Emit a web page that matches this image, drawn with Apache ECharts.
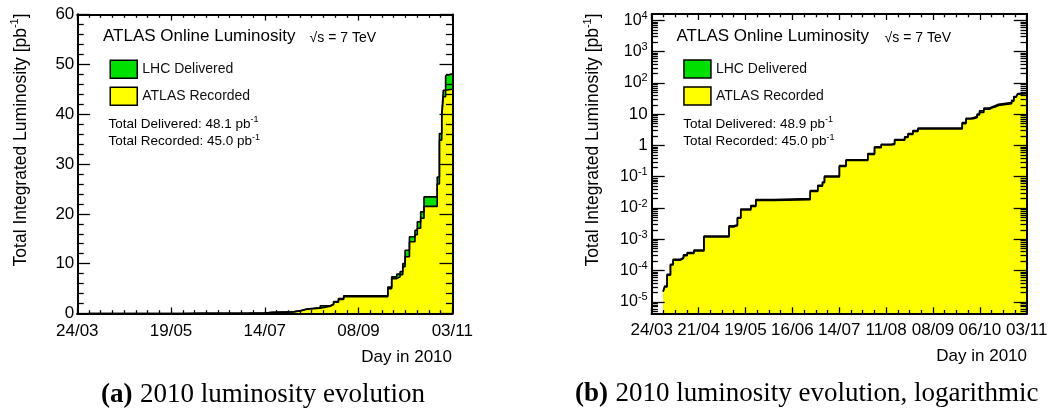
<!DOCTYPE html>
<html><head><meta charset="utf-8">
<script src="https://cdn.jsdelivr.net/npm/echarts@6/dist/echarts.min.js"></script>
<style>html,body{margin:0;padding:0;background:#fff}.lay{position:absolute;left:0;top:0;width:1054px;height:409px}#t{pointer-events:none}</style>
</head><body><div id="c" class="lay"></div><div id="t" class="lay"></div>
<script>
// ---- data (days after 24/03/2010, cumulative luminosity in pb^-1) ----
const days = [6.8, 7.8, 9.2, 11.2, 12.8, 17.2, 19.0, 21.2, 25.2, 31.2, 46.2, 49.2, 51.2, 53.2, 59.2, 62.2, 73.0, 94.7, 99.2, 102.0, 103.2, 112.1, 116.1, 129.1, 133.1, 137.1, 143.0, 145.1, 151.1, 153.1, 156.0, 159.1, 185.5, 187.8, 190.8, 192.8, 194.4, 195.8, 198.4, 201.7, 203.1, 205.1, 207.1, 215.0, 216.3, 217.7, 218.6, 220.0, 221.0, 224.0];
const deliveredA = [2.2e-5, 3.2e-5, 7.6e-5, 1.6e-4, 2.3e-4, 2.6e-4, 3.2e-4, 3.8e-4, 4.5e-4, 1.26e-3, 2.7e-3, 2.9e-3, 5.0e-3, 9.3e-3, 0.012, 0.0188, 0.020, 0.036, 0.053, 0.068, 0.105, 0.23, 0.35, 0.55, 0.90, 1.10, 1.15, 1.56, 1.90, 2.40, 3.0, 3.55, 5.3, 7.35, 7.9, 8.4, 10.0, 12.7, 15.4, 16.7, 18.4, 20.4, 23.4, 27.4, 36.1, 39.8, 44.8, 47.7, 48.1, 48.1];
const recordedA = [2.1e-5, 3.0e-5, 7.1e-5, 1.5e-4, 2.15e-4, 2.45e-4, 3.0e-4, 3.55e-4, 4.2e-4, 1.18e-3, 2.5e-3, 2.7e-3, 4.7e-3, 8.7e-3, 0.0112, 0.0175, 0.0186, 0.034, 0.050, 0.064, 0.099, 0.215, 0.33, 0.52, 0.85, 1.03, 1.08, 1.47, 1.79, 2.26, 2.83, 3.36, 5.0, 7.0, 7.35, 7.8, 9.4, 11.4, 14.4, 15.8, 17.1, 19.1, 21.5, 26.0, 34.8, 39.2, 43.5, 44.8, 45.0, 45.0];
const deliveredB = [2.2e-5, 3.2e-5, 7.6e-5, 1.6e-4, 2.3e-4, 2.6e-4, 3.2e-4, 3.8e-4, 4.5e-4, 1.26e-3, 2.7e-3, 2.9e-3, 5.0e-3, 9.3e-3, 0.012, 0.0188, 0.020, 0.036, 0.053, 0.068, 0.105, 0.23, 0.35, 0.55, 0.90, 1.10, 1.15, 1.56, 1.90, 2.40, 3.0, 3.6, 5.4, 7.45, 8.0, 8.5, 10.1, 12.9, 15.6, 16.9, 18.7, 20.7, 23.8, 27.8, 36.6, 40.4, 45.5, 48.5, 48.9, 48.9];
const recordedB = recordedA;
const xLabelsA = ['24/03', '19/05', '14/07', '08/09', '03/11'];
const xLabelsB = ['24/03', '21/04', '19/05', '16/06', '14/07', '11/08', '08/09', '06/10', '03/11'];
const yDecades = [1e-5, 1e-4, 1e-3, 1e-2, 1e-1, 1, 10, 100, 1e3, 1e4];

const FONT = '"Liberation Sans", Arial, Helvetica, sans-serif';
const SERIF = '"Liberation Serif", "Times New Roman", serif';
const GREEN = '#00e000', YELLOW = '#ffff00';
const LOGMIN = 4.3e-6, LOGMAX = 1.6e4;

const yMinorLog = [5e-6, 6e-6, 7e-6, 8e-6, 9e-6];
yDecades.forEach(d => { for (let k = 2; k <= 9; k++) yMinorLog.push(d * k); });

const frameLine = () => ({ show: true, onZero: false, lineStyle: { color: '#000', width: 2 } });
const GRIDS = () => [
  { left: 77.3, top: 14.5, width: 375, height: 299 },
  { left: 651.7, top: 14, width: 375, height: 299.3 }
];

// ---------- axes carrying the tick labels (main chart) ----------
function xLab(gi, labels, interval) {
  return {
    type: 'value', gridIndex: gi, position: 'bottom', min: 0, max: 224, interval: interval,
    axisLine: frameLine(), axisTick: { show: false }, minorTick: { show: false },
    splitLine: { show: false }, minorSplitLine: { show: false },
    axisLabel: { show: true, margin: 9, fontSize: 17, color: '#000', fontFamily: FONT,
      formatter: v => labels[Math.round(v / interval)] }
  };
}
function yLinLab() {
  return {
    type: 'value', gridIndex: 0, position: 'left', min: 0, max: 60, interval: 10,
    axisLine: frameLine(), axisTick: { show: false }, minorTick: { show: false },
    splitLine: { show: false }, minorSplitLine: { show: false },
    axisLabel: { show: true, margin: 3, fontSize: 17, color: '#000', fontFamily: FONT }
  };
}
function yLogLab() {
  return {
    type: 'log', gridIndex: 1, position: 'left', min: LOGMIN, max: LOGMAX,
    axisLine: frameLine(), axisTick: { show: false }, minorTick: { show: false }, splitLine: { show: false },
    axisLabel: { show: true, customValues: yDecades, margin: 4, color: '#000', fontFamily: FONT,
      formatter: v => {
        const e = Math.round(Math.log10(v));
        if (e === 0) return '{n|1}';
        if (e === 1) return '{n|10}';
        return '{b|10}{s|' + e + '}';
      },
      rich: {
        n: { fontSize: 17, fontFamily: FONT, color: '#000' },
        b: { fontSize: 16, fontFamily: FONT, color: '#000', lineHeight: 20 },
        s: { fontSize: 11, fontFamily: FONT, color: '#000', verticalAlign: 'top', lineHeight: 11 }
      }
    }
  };
}

// ---------- axes carrying only the ticks (overlay chart, above the fills) ----------
function xTick(gi, pos, interval) {
  return {
    type: 'value', gridIndex: gi, position: pos, min: 0, max: 224, interval: interval,
    axisLine: frameLine(),
    axisTick: { show: true, inside: true, length: 6, lineStyle: { color: '#000', width: 1.3 } },
    minorTick: { show: true, splitNumber: interval / 7, length: 3.3, lineStyle: { color: '#000', width: 1.3 } },
    splitLine: { show: false }, minorSplitLine: { show: false },
    axisLabel: { show: false }
  };
}
function yLinTick(pos) {
  return {
    type: 'value', gridIndex: 0, position: pos, min: 0, max: 60, interval: 10,
    axisLine: frameLine(),
    axisTick: { show: true, inside: true, length: 12.8, lineStyle: { color: '#000', width: 1.3 } },
    minorTick: { show: true, splitNumber: 5, length: 6.4, lineStyle: { color: '#000', width: 1.3 } },
    splitLine: { show: false }, minorSplitLine: { show: false },
    axisLabel: { show: false }
  };
}
// log-panel ticks: value axis spanning the same decades (exponent space)
function yExpTick(pos, major) {
  return {
    type: 'value', gridIndex: 1, position: pos, min: Math.log10(LOGMIN), max: Math.log10(LOGMAX),
    axisLine: frameLine(),
    axisTick: { show: true, inside: true, length: major ? 13 : 6.2,
      customValues: (major ? yDecades : yMinorLog).map(v => Math.log10(v)),
      lineStyle: { color: '#000', width: 1.3 } },
    minorTick: { show: false }, splitLine: { show: false }, minorSplitLine: { show: false },
    axisLabel: { show: false }
  };
}

function mkSeries(name, xi, yi, vals, color) {
  return {
    type: 'line', name: name, xAxisIndex: xi, yAxisIndex: yi, step: 'end',
    data: days.map((d, i) => [d, vals[i]]),
    showSymbol: false, symbol: 'none', silent: true,
    lineStyle: { color: '#000', width: 1.6 },
    itemStyle: { color: color },
    areaStyle: { color: color, opacity: 1 }
  };
}
function txt(x, y, text, size, opts) {
  opts = opts || {};
  return {
    type: 'text', x: x, y: y, rotation: opts.rot || 0, silent: true, z: 10,
    style: Object.assign({ text: text, fontSize: size, fontFamily: opts.family || FONT, fill: opts.fill || '#000',
      align: opts.align || 'left', verticalAlign: 'middle', fontWeight: opts.weight || 'normal' }, opts.rich ? { rich: opts.rich } : {})
  };
}
const supRich = (size, sup) => ({
  m: { fontSize: size, fontFamily: FONT, fill: '#000', color: '#000', lineHeight: size + 4 },
  s: { fontSize: sup, fontFamily: FONT, fill: '#000', color: '#000', verticalAlign: 'top', lineHeight: sup }
});
function legend(left, top) {
  return {
    orient: 'vertical', left: left, top: top, itemWidth: 27, itemHeight: 18, itemGap: 7.5, icon: 'rect',
    selectedMode: false,
    data: [
      { name: 'LHC Delivered', itemStyle: { color: GREEN, borderColor: '#000', borderWidth: 1.5 } },
      { name: 'ATLAS Recorded', itemStyle: { color: YELLOW, borderColor: '#000', borderWidth: 1.5 } }
    ],
    textStyle: { fontSize: 14, color: '#111', fontFamily: FONT }
  };
}
const capRich = {
  b: { fontSize: 27, fontFamily: SERIF, fontWeight: 'bold', fill: '#000', color: '#000' },
  r: { fontSize: 27, fontFamily: SERIF, fill: '#000', color: '#000' }
};

// main chart: fills, lines, labels, texts
const chart = echarts.init(document.getElementById('c'), null, { renderer: 'canvas' });
chart.setOption({
  animation: false,
  backgroundColor: '#fff',
  grid: GRIDS(),
  xAxis: [xLab(0, xLabelsA, 56), xLab(1, xLabelsB, 28)],
  yAxis: [yLinLab(), yLogLab()],
  legend: [legend(104.5, 54.5), legend(678.2, 54.2)],
  series: [
    mkSeries('LHC Delivered', 0, 0, deliveredA, GREEN),
    mkSeries('ATLAS Recorded', 0, 0, recordedA, YELLOW),
    mkSeries('LHC Delivered', 1, 1, deliveredB, GREEN),
    mkSeries('ATLAS Recorded', 1, 1, recordedB, YELLOW)
  ],
  graphic: [
    txt(103, 36.5, 'ATLAS Online Luminosity', 17),
    txt(309.6, 38, '√s = 7 TeV', 14),
    txt(108.6, 124, '{m|Total Delivered: 48.1 pb}{s|-1}', 13.5, { rich: supRich(13.5, 9) }),
    txt(108.6, 141.7, '{m|Total Recorded: 45.0 pb}{s|-1}', 13.5, { rich: supRich(13.5, 9) }),
    txt(452, 357, 'Day in 2010', 17, { align: 'right' }),
    txt(20.7, 13.4, '{m|Total Integrated Luminosity [pb}{s|-1}{m|]}', 17.5, { align: 'right', rot: Math.PI / 2, rich: supRich(17.5, 11) }),
    txt(263, 395, '{b|(a)} {r|2010 luminosity evolution}', 27, { align: 'center', rich: capRich }),

    txt(676.5, 36.5, 'ATLAS Online Luminosity', 17),
    txt(884.6, 38, '√s = 7 TeV', 14),
    txt(683.2, 124, '{m|Total Delivered: 48.9 pb}{s|-1}', 13.5, { rich: supRich(13.5, 9) }),
    txt(683.2, 141.7, '{m|Total Recorded: 45.0 pb}{s|-1}', 13.5, { rich: supRich(13.5, 9) }),
    txt(1027, 356, 'Day in 2010', 17, { align: 'right' }),
    txt(593.6, 13.4, '{m|Total Integrated Luminosity [pb}{s|-1}{m|]}', 17.5, { align: 'right', rot: Math.PI / 2, rich: supRich(17.5, 11) }),
    txt(806.8, 394, '{b|(b)} {r|2010 luminosity evolution, logarithmic}', 27, { align: 'center', rich: capRich })
  ]
});

// overlay chart: frame and inward ticks on all four sides, drawn above the fills
const ticks = echarts.init(document.getElementById('t'), null, { renderer: 'canvas' });
ticks.setOption({
  animation: false,
  backgroundColor: 'transparent',
  grid: GRIDS(),
  xAxis: [xTick(0, 'bottom', 56), xTick(0, 'top', 56), xTick(1, 'bottom', 28), xTick(1, 'top', 28)],
  yAxis: [yLinTick('left'), yLinTick('right'), yExpTick('left', true), yExpTick('left', false), yExpTick('right', true), yExpTick('right', false)],
  series: []
});
</script></body></html>
